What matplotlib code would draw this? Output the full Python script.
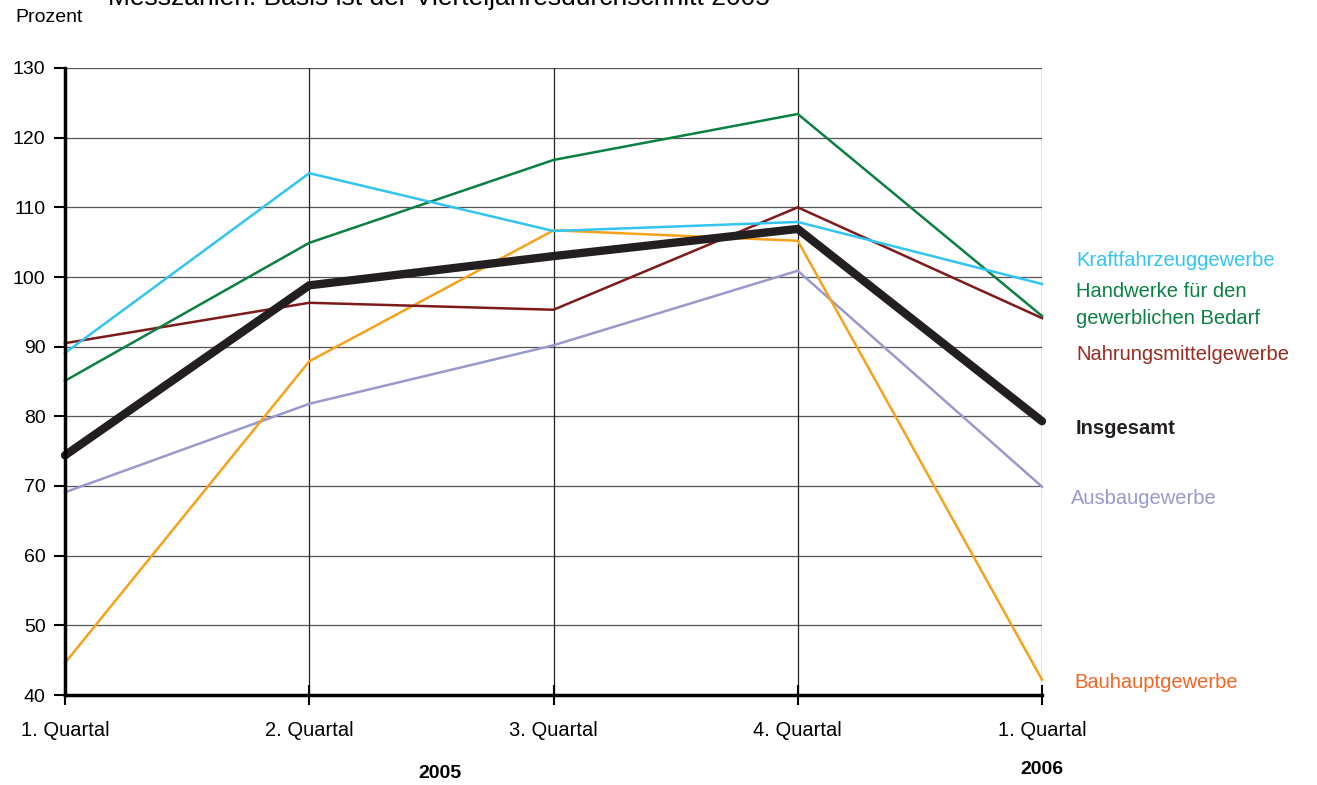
import matplotlib
matplotlib.use("Agg")
import matplotlib.pyplot as plt

quarters = ["1. Quartal", "2. Quartal", "3. Quartal", "4. Quartal", "1. Quartal"]
kraftfahrzeug = [89.1, 114.9, 106.6, 107.9, 99.0]
handwerke = [85.1, 104.9, 116.8, 123.4, 94.4]
nahrungsmittel = [90.5, 96.3, 95.3, 110.0, 94.1]
insgesamt = [74.4, 98.8, 103.0, 106.9, 79.3]
ausbau = [69.1, 81.8, 90.2, 100.9, 69.9]
bauhaupt = [44.6, 87.9, 106.7, 105.2, 42.2]
yticks = [40, 50, 60, 70, 80, 90, 100, 110, 120, 130]

plt.rcParams['font.family'] = ['Liberation Sans', 'DejaVu Sans']

W, H = 1317, 785
fig = plt.figure(figsize=(W/100, H/100), dpi=100)
ax = fig.add_axes([65/W, 1-695/H, (1042-65)/W, (695-68)/H])
x = list(range(len(quarters)))

ax.set_xlim(0, 4)
ax.set_ylim(40, 130)
ax.set_yticks(yticks)
ax.set_xticks(x)
ax.set_xticklabels(quarters)
ax.tick_params(axis='y', direction='out', length=8, width=1.5, labelsize=14, pad=6)
ax.tick_params(axis='x', direction='inout', length=14, width=1.5, labelsize=14.5, pad=12)

for y in yticks:
    ax.axhline(y, color='#555555', lw=0.9, zorder=1)
for xi in x:
    ax.axvline(xi, color='#222222', lw=0.9, zorder=1)

for s in ['top', 'right']:
    ax.spines[s].set_visible(False)
ax.spines['left'].set_linewidth(2.5)
ax.spines['bottom'].set_linewidth(2.5)
ax.spines['left'].set_zorder(5)
ax.spines['bottom'].set_zorder(5)

ax.plot(x, ausbau, color='#9999CC', lw=1.8, zorder=3, clip_on=False)
ax.plot(x, bauhaupt, color='#F7A21B', lw=1.8, zorder=3, clip_on=False)
ax.plot(x, nahrungsmittel, color='#7F1A1A', lw=1.8, zorder=3, clip_on=False)
ax.plot(x, handwerke, color='#0B8043', lw=1.8, zorder=3, clip_on=False)
ax.plot(x, kraftfahrzeug, color='#33C4F0', lw=1.8, zorder=3, clip_on=False)
ax.plot(x, insgesamt, color='#231F20', lw=6, zorder=4, clip_on=False,
        solid_capstyle='round', solid_joinstyle='miter')

def ftext(px, py, s, **kw):
    fig.text(px/W, 1-py/H, s, **kw)

fs = 14.5
ftext(1076, 261, "Kraftfahrzeuggewerbe", color='#33C4F0', fontsize=fs, va='center')
ftext(1076, 292, "Handwerke für den", color='#0B8043', fontsize=fs, va='center')
ftext(1076, 319, "gewerblichen Bedarf", color='#0B8043', fontsize=fs, va='center')
ftext(1076, 354, "Nahrungsmittelgewerbe", color='#9B2A20', fontsize=fs, va='center')
ftext(1076, 429, "Insgesamt", color='#231F20', fontsize=fs, va='center', fontweight='bold')
ftext(1071, 498, "Ausbaugewerbe", color='#9999CC', fontsize=fs, va='center')
ftext(1074, 682, "Bauhauptgewerbe", color='#F26522', fontsize=fs, va='center')

ftext(15, 17, "Prozent", fontsize=14, va='center')
ftext(108, 5, "Messzahlen: Basis ist der Vierteljahresdurchschnitt 2005", fontsize=19, va='baseline')
ftext(440, 773, "2005", fontsize=14, va='center', ha='center', fontweight='bold')
ftext(1042, 770, "2006", fontsize=14, va='center', ha='center', fontweight='bold')

fig.savefig("out.png", dpi=100)
